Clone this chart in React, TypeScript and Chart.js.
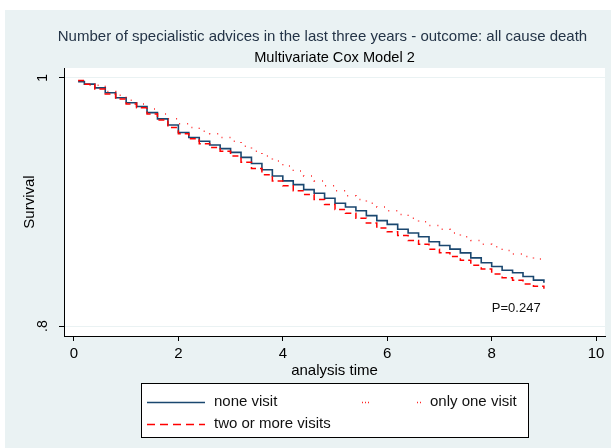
import React, { useEffect, useRef } from "react";
import { Chart, registerables } from "chart.js";

Chart.register(...registerables);

const TITLE = "Number of specialistic advices in the last three years - outcome: all cause death";
const SUBTITLE = "Multivariate Cox Model 2";
const X_TITLE = "analysis time";
const Y_TITLE = "Survival";
const X_TICKS = [0, 2, 4, 6, 8, 10];
const X_TICK_LABELS = ["0", "2", "4", "6", "8", "10"];
const Y_TICKS = [0.8, 1];
const Y_TICK_LABELS = [".8", "1"];
const P_TEXT = "P=0.247";
const P_AT = { x: 8.47, y: 0.8145 };

const SERIES_NAMES = ["none visit", "only one visit", "two or more visits"];

const noneTimes = [0.08, 0.2, 0.4, 0.6, 0.8, 1.0, 1.2, 1.4, 1.6, 1.8, 2.0, 2.2, 2.4, 2.6, 2.8, 3.0, 3.2, 3.4, 3.6, 3.8, 4.0, 4.2, 4.4, 4.6, 4.8, 5.0, 5.2, 5.4, 5.6, 5.8, 6.0, 6.2, 6.4, 6.6, 6.8, 7.0, 7.2, 7.4, 7.6, 7.8, 8.0, 8.2, 8.4, 8.6, 8.8, 9.0];
const noneSurv = [0.997, 0.995, 0.992, 0.988, 0.984, 0.980, 0.977, 0.972, 0.967, 0.962, 0.956, 0.952, 0.949, 0.946, 0.943, 0.940, 0.936, 0.931, 0.926, 0.921, 0.917, 0.914, 0.910, 0.907, 0.903, 0.899, 0.896, 0.893, 0.889, 0.885, 0.882, 0.878, 0.875, 0.872, 0.868, 0.865, 0.862, 0.859, 0.855, 0.851, 0.848, 0.845, 0.843, 0.840, 0.837, 0.835];

const oneTimes = [0.3, 0.6, 0.8, 1.0, 1.2, 1.4, 1.6, 1.8, 2.0, 2.2, 2.4, 2.6, 2.8, 3.0, 3.2, 3.4, 3.6, 3.8, 4.0, 4.2, 4.4, 4.6, 4.8, 5.0, 5.2, 5.4, 5.6, 5.8, 6.0, 6.2, 6.4, 6.6, 6.8, 7.0, 7.2, 7.4, 7.6, 7.8, 8.0, 8.2, 8.4, 8.6, 8.8, 9.0];
const oneSurv = [0.994, 0.989, 0.986, 0.982, 0.979, 0.975, 0.971, 0.967, 0.963, 0.960, 0.957, 0.955, 0.952, 0.949, 0.945, 0.941, 0.937, 0.933, 0.929, 0.925, 0.921, 0.917, 0.913, 0.909, 0.905, 0.902, 0.899, 0.896, 0.893, 0.890, 0.887, 0.884, 0.881, 0.878, 0.875, 0.872, 0.869, 0.866, 0.864, 0.861, 0.858, 0.856, 0.854, 0.852];

const twoTimes = [0.08, 0.2, 0.4, 0.6, 0.8, 1.0, 1.2, 1.4, 1.6, 1.8, 2.0, 2.2, 2.4, 2.6, 2.8, 3.0, 3.2, 3.4, 3.6, 3.8, 4.0, 4.2, 4.4, 4.6, 4.8, 5.0, 5.2, 5.4, 5.6, 5.8, 6.0, 6.2, 6.4, 6.6, 6.8, 7.0, 7.2, 7.4, 7.6, 7.8, 8.0, 8.2, 8.4, 8.6, 8.8, 9.0];
const twoSurv = [0.998, 0.995, 0.991, 0.987, 0.983, 0.979, 0.976, 0.971, 0.966, 0.960, 0.955, 0.951, 0.947, 0.944, 0.941, 0.937, 0.932, 0.927, 0.922, 0.917, 0.913, 0.909, 0.906, 0.902, 0.898, 0.894, 0.891, 0.887, 0.883, 0.879, 0.876, 0.873, 0.869, 0.866, 0.862, 0.859, 0.856, 0.853, 0.849, 0.846, 0.842, 0.839, 0.837, 0.834, 0.832, 0.830];

const FONT = "'Liberation Sans', Arial, sans-serif";
const BG = "#eaf2f3";

const toPts = (t: number[], s: number[]) => t.map((x, i) => ({ x, y: s[i] }));

const stataPlugin = {
  id: "stataDecor",
  beforeDraw(chart: any) {
    const { ctx, chartArea: a, width, height } = chart;
    ctx.save();
    ctx.fillStyle = "#ffffff";
    ctx.fillRect(0, 0, width, height);
    ctx.fillStyle = BG;
    ctx.fillRect(5, 10, width - 5, height - 10);
    ctx.fillStyle = "#ffffff";
    ctx.fillRect(a.left, a.top, a.right - a.left, a.bottom - a.top);
    ctx.restore();
  },
  afterDraw(chart: any) {
    const { ctx, chartArea: a } = chart;
    const xs = chart.scales.x;
    const ys = chart.scales.y;
    const cx = (a.left + a.right) / 2;
    ctx.save();
    ctx.textAlign = "center";
    ctx.textBaseline = "middle";
    // titles
    ctx.fillStyle = "#243447";
    ctx.font = `15px ${FONT}`;
    ctx.fillText(TITLE, cx - 12, a.top - 31);
    ctx.fillStyle = "#000000";
    ctx.font = `14.6px ${FONT}`;
    ctx.fillText(SUBTITLE, cx, a.top - 10);
    // y tick labels rotated
    ctx.font = `14px ${FONT}`;
    Y_TICKS.forEach((v, i) => {
      const py = ys.getPixelForValue(v);
      ctx.save();
      ctx.translate(a.left - 21, py);
      ctx.rotate(-Math.PI / 2);
      ctx.fillText(Y_TICK_LABELS[i], 0, 0);
      ctx.restore();
    });
    // P annotation
    ctx.font = `13px ${FONT}`;
    ctx.fillStyle = "#111111";
    ctx.fillText(P_TEXT, xs.getPixelForValue(P_AT.x), ys.getPixelForValue(P_AT.y));
    // legend box
    const bx = 141, by = 383, bw = 387, bh = 54;
    ctx.fillStyle = "#ffffff";
    ctx.fillRect(bx, by, bw, bh);
    ctx.strokeStyle = "#000000";
    ctx.lineWidth = 1;
    ctx.strokeRect(bx + 0.5, by + 0.5, bw, bh);
    const ds = chart.data.datasets;
    const items = [
      { d: ds[0], x1: 147, x2: 205, tx: 214, y: 402 },
      { d: ds[1], x1: 362, x2: 421, tx: 430, y: 402 },
      { d: ds[2], x1: 147, x2: 205, tx: 214, y: 424 },
    ];
    ctx.textAlign = "left";
    ctx.font = `15px ${FONT}`;
    items.forEach((it) => {
      ctx.save();
      ctx.strokeStyle = it.d.borderColor;
      ctx.lineWidth = it.d.borderWidth;
      ctx.setLineDash(it.d.legendDash || it.d.borderDash || []);
      ctx.beginPath();
      ctx.moveTo(it.x1, it.y + 0.5);
      ctx.lineTo(it.x2, it.y + 0.5);
      ctx.stroke();
      ctx.restore();
      ctx.fillStyle = "#111111";
      ctx.fillText(it.d.label, it.tx, it.y);
    });
    ctx.restore();
  },
};

export default function App() {
  const ref = useRef<HTMLCanvasElement | null>(null);
  useEffect(() => {
    if (!ref.current) return;
    const chart = new Chart(ref.current, {
      type: "line",
      data: {
        datasets: [
          {
            label: SERIES_NAMES[0],
            data: toPts(noneTimes, noneSurv),
            borderColor: "#1a476f",
            borderWidth: 1.6,
            stepped: "before",
            pointRadius: 0,
            fill: false,
            order: 2,
          },
          {
            label: SERIES_NAMES[1],
            data: toPts(oneTimes, oneSurv),
            borderColor: "rgba(255,0,0,0.85)",
            borderWidth: 1.5,
            borderDash: [1, 7],
            legendDash: [1, 2, 1, 2, 1, 48],
            stepped: "before",
            pointRadius: 0,
            fill: false,
            order: 1,
          } as any,
          {
            label: SERIES_NAMES[2],
            data: toPts(twoTimes, twoSurv),
            borderColor: "#ff0000",
            borderWidth: 1.5,
            borderDash: [6, 4],
            legendDash: [8, 5],
            stepped: "before",
            pointRadius: 0,
            fill: false,
            order: 0,
          } as any,
        ],
      },
      options: {
        animation: false,
        responsive: false,
        devicePixelRatio: 1,
        layout: { padding: { top: 68, left: 0, right: 6, bottom: 64 } },
        plugins: {
          legend: { display: false },
          title: { display: false },
          tooltip: { enabled: false },
        },
        scales: {
          x: {
            type: "linear",
            min: -0.19,
            max: 10.17,
            afterBuildTicks: (s: any) => {
              s.ticks = X_TICKS.map((v) => ({ value: v }));
            },
            afterFit: (s: any) => {
              s.height = 48;
            },
            ticks: {
              autoSkip: false,
              maxRotation: 0,
              minRotation: 0,
              padding: 4,
              color: "#000000",
              font: { family: FONT, size: 15 },
              callback: (_v: any, i: number) => X_TICK_LABELS[i],
            },
            grid: {
              drawOnChartArea: false,
              drawTicks: true,
              tickLength: 5,
              tickColor: "#000000",
            },
            border: { display: true, color: "#000000", width: 1 },
            title: {
              display: true,
              text: X_TITLE,
              color: "#000000",
              font: { family: FONT, size: 15 },
              padding: { top: 0, bottom: 4 },
            },
          },
          y: {
            type: "linear",
            min: 0.792,
            max: 1.008,
            afterBuildTicks: (s: any) => {
              s.ticks = Y_TICKS.map((v) => ({ value: v }));
            },
            afterFit: (s: any) => {
              s.width = 64;
            },
            ticks: { display: false },
            grid: {
              color: BG,
              lineWidth: 1,
              drawTicks: true,
              tickLength: 5,
              tickColor: "#000000",
            },
            border: { display: true, color: "#000000", width: 1 },
            title: {
              display: true,
              text: Y_TITLE,
              color: "#000000",
              font: { family: FONT, size: 15 },
              padding: { top: 21, bottom: 0 },
            },
          },
        },
      },
      plugins: [stataPlugin],
    } as any);
    return () => chart.destroy();
  }, []);
  return (
    <div style={{ position: "fixed", left: 0, top: 0, width: 611, height: 448, background: "#fff" }}>
      <canvas ref={ref} width={611} height={448} style={{ display: "block", width: 611, height: 448 }} />
    </div>
  );
}
